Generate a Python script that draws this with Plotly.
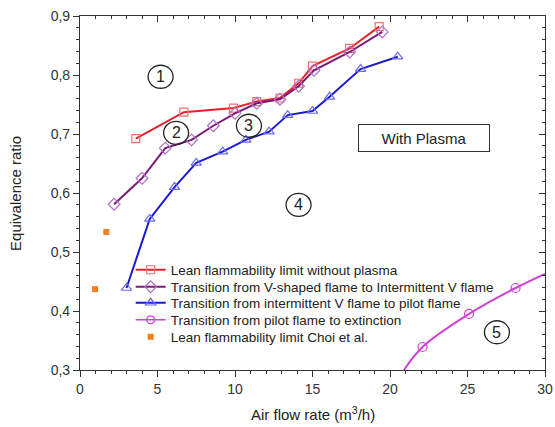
import plotly.graph_objects as go

# Lean flammability limit without plasma
red_x = [3.6, 6.7, 9.9, 11.4, 12.9, 14.1, 15.0, 17.4, 19.3]
red_y = [0.692, 0.737, 0.744, 0.755, 0.761, 0.786, 0.815, 0.845, 0.882]

# Transition from V-shaped flame to Intermittent V flame
pur_x = [2.2, 4.0, 5.5, 7.2, 8.6, 10.0, 11.4, 12.9, 14.1, 15.1, 17.4, 19.5]
pur_y = [0.581, 0.625, 0.676, 0.690, 0.714, 0.735, 0.752, 0.759, 0.781, 0.808, 0.839, 0.873]

# Transition from intermittent V flame to pilot flame
blu_x = [3.0, 4.5, 6.1, 7.5, 9.2, 10.7, 12.2, 13.4, 15.0, 16.1, 18.1, 20.5]
blu_y = [0.439, 0.556, 0.610, 0.651, 0.670, 0.690, 0.704, 0.732, 0.739, 0.763, 0.810, 0.831]

# Transition from pilot flame to extinction (measured points + fitted curve)
mag_x = [22.1, 25.1, 28.1]
mag_y = [0.339, 0.395, 0.439]
mag_curve_x = [20.9, 22.1, 25.1, 28.1, 30.0]
mag_curve_y = [0.300, 0.339, 0.395, 0.439, 0.463]

# Lean flammability limit Choi et al.
ora_x = [0.97, 1.7]
ora_y = [0.437, 0.534]

x_ticks = [0, 5, 10, 15, 20, 25, 30]
y_ticks = [0.3, 0.4, 0.5, 0.6, 0.7, 0.8, 0.9]

FONT = "Liberation Sans, Arial"
RED = "#e8202a"
RED_M = "#f07070"
PUR = "#7a1a78"
PUR_M = "#b070c8"
BLU = "#1a1ad0"
BLU_M = "#6a6af0"
MAG = "#d040d8"
ORA = "#f08020"

fig = go.Figure()
fig.add_trace(go.Scatter(x=red_x, y=red_y, mode="lines+markers", legend="legend",
                         name="Lean flammability limit without plasma",
                         line=dict(color=RED, width=2),
                         marker=dict(symbol="square-open", size=8, color=RED_M, line=dict(width=1.2))))
fig.add_trace(go.Scatter(x=pur_x, y=pur_y, mode="lines+markers", legend="legend2",
                         name="Transition from V-shaped flame to Intermittent V flame",
                         line=dict(color=PUR, width=2),
                         marker=dict(symbol="diamond-open", size=9, color=PUR_M, line=dict(width=1.2))))
fig.add_trace(go.Scatter(x=blu_x, y=blu_y, mode="lines+markers", legend="legend3",
                         name="Transition from intermittent V flame to pilot flame",
                         line=dict(color=BLU, width=2),
                         marker=dict(symbol="triangle-up-open", size=9, color=BLU_M, line=dict(width=1.2))))
fig.add_trace(go.Scatter(x=[None], y=[None], mode="lines+markers", legend="legend4",
                         name="Transition from pilot flame to extinction",
                         line=dict(color=MAG, width=1.5),
                         marker=dict(symbol="circle-open", size=8, color=MAG, line=dict(width=1.2))))
fig.add_trace(go.Scatter(x=ora_x, y=ora_y, mode="markers", legend="legend5",
                         name="Lean flammability limit Choi et al.",
                         marker=dict(symbol="square", size=6, color=ORA)))
fig.add_trace(go.Scatter(x=mag_curve_x, y=mag_curve_y, mode="lines", showlegend=False,
                         line=dict(color=MAG, width=2, shape="spline")))
fig.add_trace(go.Scatter(x=mag_x, y=mag_y, mode="markers", showlegend=False,
                         marker=dict(symbol="circle-open", size=9, color=MAG, line=dict(width=1.2))))

# circled region labels
regions = [("1", 5.2, 0.797), ("2", 6.2, 0.702), ("3", 10.9, 0.714), ("4", 14.1, 0.580), ("5", 26.9, 0.364)]
for lbl, rx, ry in regions:
    fig.add_shape(type="circle", xref="x", yref="y", xsizemode="pixel", ysizemode="pixel",
                  xanchor=rx, yanchor=ry, x0=-12.5, x1=12.5, y0=-11.5, y1=11.5,
                  line=dict(color="#222", width=1.3))
    fig.add_annotation(x=rx, y=ry, text=lbl, showarrow=False,
                       font=dict(family=FONT, size=16, color="#222"))

fig.add_annotation(x=22.2, y=0.693, text="With Plasma", showarrow=False,
                   font=dict(family=FONT, size=15, color="#222"),
                   bordercolor="#333", borderwidth=1, width=128, height=24, bgcolor="white")

# axis titles
fig.add_annotation(xref="paper", yref="paper", x=0.5, y=-0.122, xanchor="center", yanchor="middle",
                   text="Air flow rate (m<sup>3</sup>/h)", showarrow=False,
                   font=dict(family=FONT, size=15, color="#222"))
fig.add_annotation(xref="paper", yref="paper", x=-0.14, y=0.5, xanchor="center", yanchor="middle",
                   text="Equivalence ratio", textangle=-90, showarrow=False,
                   font=dict(family=FONT, size=15, color="#222"))

axis_common = dict(showline=True, linecolor="#333", linewidth=1.2, showgrid=False, zeroline=False,
                   ticklen=6, tickwidth=1, tickcolor="#333", automargin=False,
                   tickfont=dict(family=FONT, size=14, color="#333"))

leg_rows = [0.2825, 0.2345, 0.1893, 0.1412, 0.0932]
leg_common = dict(x=0.109, xanchor="left", yanchor="middle", bgcolor="rgba(0,0,0,0)",
                  font=dict(family=FONT, size=13.5, color="#222"), itemwidth=30)

fig.update_layout(
    width=555, height=427,
    margin=dict(l=80, r=10, t=16, b=57),
    paper_bgcolor="white", plot_bgcolor="white",
    separators=",.",
    showlegend=True,
    legend=dict(y=leg_rows[0], **leg_common),
    legend2=dict(y=leg_rows[1], **leg_common),
    legend3=dict(y=leg_rows[2], **leg_common),
    legend4=dict(y=leg_rows[3], **leg_common),
    legend5=dict(y=leg_rows[4], **leg_common),
    xaxis=dict(range=[0, 30], tickvals=x_ticks, ticks="outside",
               minor=dict(dtick=1, ticks="outside", ticklen=3, tickcolor="#333"),
               **axis_common),
    yaxis=dict(range=[0.3, 0.9], tickvals=y_ticks, tickformat=".1f", ticks="outside",
               minor=dict(dtick=0.02, ticks="outside", ticklen=3, tickcolor="#333"),
               **axis_common),
    xaxis2=dict(range=[0, 30], overlaying="x", side="top", tickvals=x_ticks, ticks="inside",
                showticklabels=False, minor=dict(dtick=1, ticks="inside", ticklen=3, tickcolor="#333"),
                showline=True, linecolor="#333", linewidth=1.2, showgrid=False, zeroline=False,
                ticklen=6, tickcolor="#333", automargin=False),
    yaxis2=dict(range=[0.3, 0.9], overlaying="y", side="right", tickvals=y_ticks, ticks="inside",
                showticklabels=False, minor=dict(dtick=0.02, ticks="inside", ticklen=3, tickcolor="#333"),
                showline=True, linecolor="#333", linewidth=1.2, showgrid=False, zeroline=False,
                ticklen=6, tickcolor="#333", automargin=False),
)
# invisible trace to activate the mirrored axes
fig.add_trace(go.Scatter(x=[None], y=[None], xaxis="x2", yaxis="y2", showlegend=False, hoverinfo="skip"))

fig.write_html("out.html", config={"displayModeBar": False},
               post_script="document.body.style.margin='0';")
